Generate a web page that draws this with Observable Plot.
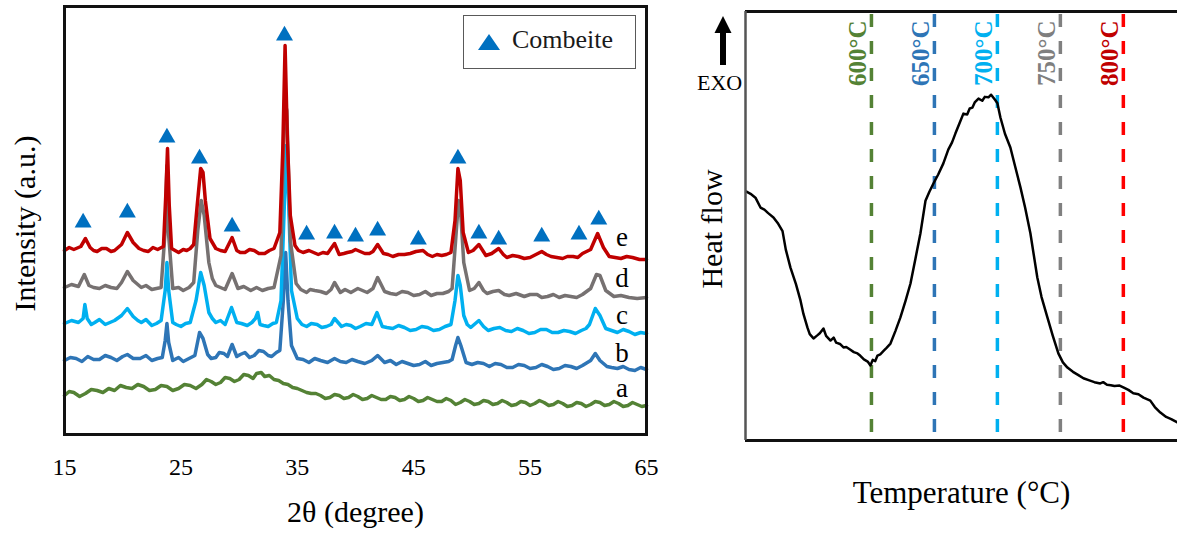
<!DOCTYPE html>
<html>
<head>
<meta charset="utf-8">
<script src="https://cdn.jsdelivr.net/npm/d3@7"></script>
<script src="https://cdn.jsdelivr.net/npm/@observablehq/plot@0.6"></script>
<style>
  body { margin: 0; background: #fff; }
  #wrap { position: relative; width: 1177px; height: 533px; overflow: hidden; background: #fff;
          font-family: "Liberation Serif", "Times New Roman", serif; }
  #left { position: absolute; left: 0; top: 0; }
  #right { position: absolute; left: 680px; top: 0; }
  #legend { position: absolute; left: 463px; top: 15px; width: 173px; height: 54px;
            border: 1.5px solid #595959; background: #fff; box-sizing: border-box; }
  #legend span { position: absolute; left: 48px; top: 9px; font-size: 26px; color: #1a1a1a; line-height: 30px; }
  #exo { position: absolute; left: 680px; top: 0; width: 70px; height: 100px; }
  #exo span { position: absolute; left: 17px; top: 70px; font-size: 22px; line-height: 26px; color: #000; }
</style>
</head>
<body>
<div id="wrap">
  <div id="left"></div>
  <div id="right"></div>
  <div id="legend">
    <svg width="170" height="52" style="position:absolute;left:0;top:0">
      <path d="M25,18 L36,34 L14,34 Z" fill="#0070C0"></path>
    </svg>
    <span>Combeite</span>
  </div>
  <div id="exo">
    <svg width="70" height="70" style="position:absolute;left:0;top:0">
      <path d="M43,16 L51.5,33 L34.5,33 Z" fill="#000"></path>
      <rect x="40" y="32" width="6" height="33" fill="#000"></rect>
    </svg>
    <span>EXO</span>
  </div>
</div>
<script>
// ---------------- XRD data (2θ in degrees, intensity in a.u., stacked as plotted) ----------------
const xTicks = [15, 25, 35, 45, 55, 65];

const traceA = [[15,39],[15.4,43],[15.8,42],[16.3,38],[16.8,41],[17.3,45],[17.8,44],[18.3,42],[18.8,46],[19.3,44],[19.8,49],
  [20.3,47],[20.8,46],[21.3,50],[21.8,48],[22.3,44],[22.8,45],[23.3,49],[23.8,48],[24.3,44],[24.8,46],[25.3,50],
  [25.8,49],[26.3,46],[26.8,50],[27.2,55],[27.6,53],[28,50],[28.4,52],[28.8,57],[29.2,56],[29.6,53],[30,55],
  [30.4,60],[30.8,59],[31.2,56],[31.5,61],[31.9,62],[32.2,58],[32.6,59],[33,55],[33.4,54],[33.8,51],[34.2,50],
  [34.6,47],[35,46],[35.4,44],[35.8,42],[36.2,41],[36.6,41],[37,39],[37.4,36],[37.8,37],[38.2,40],[38.6,39],
  [39,36],[39.4,37],[39.8,40],[40.2,38],[40.6,35],[41,36],[41.4,39],[41.8,37],[42.2,35],[42.6,35],[43,38],
  [43.4,37],[43.8,34],[44.2,35],[44.6,38],[45,36],[45.4,33],[45.8,34],[46.2,37],[46.6,35],[47,33],[47.4,33],
  [47.8,36],[48.2,34],[48.6,30],[49,32],[49.4,35],[49.8,33],[50.2,30],[50.6,31],[51,34],[51.4,33],[51.8,30],
  [52.2,31],[52.6,34],[53,32],[53.4,29],[53.8,30],[54.2,33],[54.6,32],[55,29],[55.4,31],[55.8,34],[56.2,32],
  [56.6,29],[57,30],[57.4,33],[57.8,31],[58.2,28],[58.6,29],[59,32],[59.4,31],[59.8,28],[60.2,30],[60.6,33],
  [61,32],[61.4,29],[61.8,30],[62.2,33],[62.6,31],[63,28],[63.4,29],[63.8,32],[64.2,30],[64.6,28],[65,29]];

const traceB = [[15,74],[15.5,77],[16,76],[16.5,73],[17,78],[17.5,75],[18,75],[18.5,79],[19,77],[19.5,74],[20,78],
  [20.4,80],[20.9,76],[21.5,76],[22,79],[22.5,74],[23,76],[23.4,77],[23.65,94],[23.8,111],[23.95,92],[24.3,74],
  [24.8,77],[25.2,73],[25.7,76],[26.2,79],[26.6,102],[26.9,96],[27.3,80],[27.6,76],[28,77],[28.3,82],[28.7,81],
  [29,78],[29.4,90],[29.8,78],[30.1,80],[30.5,82],[30.9,77],[31.3,79],[31.7,84],[32.1,83],[32.5,79],[32.8,78],
  [33.2,82],[33.5,84],[33.8,134],[34,182],[34.2,134],[34.5,89],[35,76],[35.5,75],[36,72],[36.5,76],[37,74],
  [37.6,72],[38.2,76],[38.7,73],[39.2,72],[39.7,75],[40.2,73],[40.8,71],[41.4,74],[41.9,79],[42.5,72],[43,74],
  [43.5,70],[44,73],[44.5,71],[45,69],[45.5,70],[46,73],[46.5,69],[47,71],[47.5,72],[48,73],[48.3,75],[48.6,89],
  [48.8,97],[49.05,89],[49.5,72],[50,70],[50.5,72],[51,71],[51.5,68],[52,71],[52.5,70],[53,67],[53.5,67],[54,70],
  [54.5,69],[55,66],[55.5,67],[56,70],[56.5,68],[57,65],[57.5,66],[58,69],[58.5,68],[59,66],[59.5,69],[60.2,74],
  [60.6,81],[61,74],[61.6,68],[62,67],[62.5,66],[63,68],[63.5,65],[64,64],[64.5,67],[65,65]];

const traceC = [[15,111],[15.6,114],[16.2,112],[16.6,116],[16.75,130],[16.95,116],[17.3,110],[17.6,112],[18,115],
  [18.5,110],[18.9,112],[19.3,114],[19.9,119],[20.4,126],[20.9,118],[21.3,114],[21.6,112],[22,115],[22.5,109],
  [22.9,111],[23.3,114],[23.65,144],[23.8,172],[23.95,144],[24.3,112],[24.6,110],[25,108],[25.4,111],[25.8,112],
  [26.3,134],[26.7,162],[27,149],[27.4,122],[27.7,116],[28,112],[28.4,114],[28.8,110],[29.35,127],[29.8,112],
  [30.2,111],[30.7,109],[31.1,112],[31.4,116],[31.6,122],[31.8,110],[32.1,109],[32.5,108],[32.9,111],[33.2,112],
  [33.6,134],[33.9,234],[34.05,289],[34.25,234],[34.5,144],[35,116],[35.4,110],[35.8,108],[36.2,111],[36.7,110],
  [37.1,107],[37.5,108],[37.9,110],[38.2,116],[38.8,108],[39.2,110],[39.6,109],[40,106],[40.4,108],[40.9,111],
  [41.4,110],[41.85,122],[42.3,108],[42.7,107],[43.2,106],[43.7,109],[44.2,107],[44.7,104],[45.2,105],[45.7,108],
  [46.2,107],[46.7,104],[47.2,105],[47.7,108],[48.2,110],[48.55,134],[48.8,159],[49,149],[49.3,119],[49.6,110],
  [49.9,107],[50.2,110],[50.6,114],[51,108],[51.4,104],[51.9,106],[52.4,107],[52.9,104],[53.4,103],[53.9,106],
  [54.4,104],[54.9,101],[55.4,102],[55.9,105],[56.4,105],[56.9,102],[57.4,102],[57.9,104],[58.4,103],[58.9,101],
  [59.4,104],[59.8,106],[60.1,110],[60.6,126],[61,119],[61.5,106],[62,104],[62.5,102],[63,105],[63.5,103],
  [64,100],[64.5,102],[65,101]];

const traceD = [[15,147],[15.6,150],[16.2,148],[16.7,160],[17.1,149],[17.5,147],[18,146],[18.5,149],[19,147],
  [19.5,146],[19.9,152],[20.4,163],[20.9,154],[21.3,150],[21.6,147],[22,149],[22.5,145],[22.9,146],[23.3,147],
  [23.65,204],[23.8,269],[23.95,199],[24.3,146],[24.8,147],[25.2,144],[25.7,147],[26.1,152],[26.45,204],
  [26.75,234],[27,219],[27.4,172],[27.7,156],[28,149],[28.4,147],[28.8,145],[29.4,161],[29.9,146],[30.4,148],
  [31,144],[31.5,147],[32,144],[32.5,146],[33,147],[33.6,179],[33.9,334],[34.1,324],[34.4,194],[34.9,151],
  [35.3,145],[35.8,142],[36.1,145],[36.5,144],[37,143],[37.5,141],[37.9,145],[38.2,152],[38.7,142],[39.1,145],
  [39.6,142],[40.2,146],[40.6,144],[41,142],[41.5,146],[41.9,157],[42.5,143],[43,141],[43.5,140],[44,143],
  [44.5,142],[45,139],[45.5,140],[46,143],[46.5,139],[47,141],[47.5,141],[48,143],[48.3,146],[48.6,194],
  [48.85,234],[49.05,219],[49.3,172],[49.8,144],[50.2,146],[50.6,152],[51,144],[51.3,141],[51.8,143],[52.3,144],
  [52.8,140],[53.2,139],[53.8,141],[54.5,138],[55,140],[55.6,140],[56,137],[56.5,138],[57,140],[57.5,137],
  [58,139],[58.5,138],[59,137],[59.5,140],[60.2,146],[60.7,160],[61,159],[61.5,144],[62.2,138],[62.8,139],
  [63.5,137],[64.2,136],[65,137]];

const traceE = [[15,184],[15.4,187],[15.8,185],[16.4,188],[16.8,196],[17.2,187],[17.5,184],[17.8,183],[18.2,186],
  [18.6,186],[19,183],[19.3,184],[19.9,190],[20.4,202],[20.9,192],[21.4,186],[21.8,184],[22.2,183],[22.6,187],
  [23,185],[23.5,188],[23.7,239],[23.85,286],[24,229],[24.2,186],[24.5,184],[24.8,182],[25.2,185],[25.5,184],
  [25.8,186],[26.1,190],[26.4,229],[26.7,266],[26.9,262],[27.1,234],[27.5,196],[28,186],[28.4,184],[28.8,183],
  [29.4,197],[29.8,184],[30.1,182],[30.5,182],[30.9,185],[31.3,184],[31.7,181],[32.2,181],[32.6,184],[33,186],
  [33.5,202],[33.75,284],[33.95,389],[34.15,294],[34.4,219],[34.8,189],[35.1,184],[35.5,182],[36,184],[36.4,182],
  [36.8,180],[37.2,182],[37.6,181],[38.2,191],[38.6,180],[39,181],[39.3,182],[39.7,183],[40,185],[40.4,183],
  [40.8,181],[41.2,181],[41.5,183],[41.9,190],[42.4,181],[42.8,180],[43.2,178],[43.7,180],[44.2,180],[44.7,181],
  [45.2,183],[45.8,184],[46.2,180],[46.6,178],[47,180],[47.4,179],[47.8,180],[48.2,182],[48.55,214],[48.8,266],
  [49,254],[49.25,202],[49.7,182],[50.1,184],[50.6,190],[51.2,179],[51.7,181],[52.3,186],[52.7,180],[53,177],
  [53.5,179],[54,178],[54.5,176],[55,177],[55.5,180],[56,183],[56.4,180],[56.8,178],[57.3,177],[57.8,176],
  [58.2,178],[58.7,178],[59.1,177],[59.5,181],[60.2,185],[60.8,201],[61.3,187],[61.8,178],[62.3,177],[62.8,176],
  [63.3,178],[63.8,177],[64.4,175],[65,175]];

const sampleNames = ["a", "b", "c", "d", "e"];
const sampleLabelAngle = [62.9, 62.9, 62.9, 62.9, 62.9];
const sampleLabelIntensity = [46, 81, 119, 156, 197];

// Combeite reflections (marker positions)
const combeiteAngle  = [16.6, 20.4, 23.8, 26.6, 29.4, 33.9, 35.8, 38.2, 40.0, 41.9, 45.4, 48.8, 50.6, 52.3, 56.0, 59.2, 60.9];
const combeiteHeight = [212, 222, 297, 276, 208, 399, 200, 201, 198, 204, 195, 276, 201, 195, 198, 200, 215];

// ---------------- DSC data (temperature °C, heat flow a.u.) ----------------
const dscTemp = [500.8,504,507.9,511.9,515,518,522.2,526,529.4,532,535.7,540,543.7,546,549.2,551,554,557,559,561.9,564,567.5,
  570,572,575,577.8,580,583,586,588.9,591,594,597,599.2,601,603,604.8,607,610,612,615.1,619,623,627,631,635,638.9,
  642.9,646,649.2,653,657.1,661,664,666.7,670,673,676,678,680.2,682,685,688,690,692.9,695,698.4,700,702.4,706,710.3,
  714,718.3,722,726.2,731.7,735,739.7,744,748.4,752,755.6,760,764,768.3,773,777,781.7,784,787,790,793,797,800,
  804,807.9,812,816,821.4,825,829.4,834,838,842.9];
const dscHeat = [58.0,57.5,56.6,54.3,53.8,53.0,52.0,50.5,48.8,44.5,40.3,36.5,32.6,29.5,26.3,24.8,23.8,24.5,25.0,26.1,24.4,23.3,
  24.0,22.8,22.5,21.7,21.8,21.2,20.6,20.3,19.8,18.9,18.4,17.5,18.8,18.5,19.8,20.1,21.0,21.6,22.6,25.5,28.7,32.5,36.6,
  42.5,48.3,55.9,58.0,59.9,62.0,64.6,67.8,69.5,71.6,74.0,76.2,76.0,77.4,77.6,78.8,79.7,79.2,80.1,80.0,80.6,79.3,
  78.6,75.3,71.5,68.3,64.0,59.0,54.3,48.3,38.0,33.5,28.7,24.4,20.3,18.2,17.0,16.0,15.3,14.5,14.0,13.6,13.3,13.6,
  13.0,12.9,12.7,12.8,12.4,11.8,11.0,10.8,10.0,9.3,7.8,6.5,5.5,5.0,4.2];

const tempMarks = [600, 650, 700, 750, 800];

// ---------------- styles ----------------
const sampleColor = {a: "#548235", b: "#2E75B6", c: "#00B0F0", d: "#767171", e: "#C00000"};
const markLineColor = {600: "#548235", 650: "#2E75B6", 700: "#00B0F0", 750: "#808080", 800: "#FF0000"};
const markTextColor = {600: "#548235", 650: "#2E75B6", 700: "#00B0F0", 750: "#7F7F7F", 800: "#C00000"};
const serif = "Liberation Serif, Times New Roman, serif";

const traces = {a: traceA, b: traceB, c: traceC, d: traceD, e: traceE};
const xrdRows = sampleNames.flatMap(s => traces[s].map(([t, i]) => ({sample: s, twoTheta: t, intensity: i})));
const labelRows = sampleNames.map((s, i) => ({sample: s, twoTheta: sampleLabelAngle[i], intensity: sampleLabelIntensity[i]}));
const combeiteRows = combeiteAngle.map((a, i) => ({twoTheta: a, intensity: combeiteHeight[i]}));
const dscRows = dscTemp.map((t, i) => ({temp: t, heat: dscHeat[i]}));

const left = Plot.plot({
  width: 680, height: 533,
  marginLeft: 64, marginRight: 34, marginTop: 6, marginBottom: 99,
  x: {domain: [15, 65]},
  y: {domain: [0, 428], axis: null},
  style: {fontFamily: serif, background: "transparent", color: "#000", overflow: "visible"},
  marks: [
    ...sampleNames.map(s => Plot.line(xrdRows.filter(d => d.sample === s),
      {x: "twoTheta", y: "intensity", stroke: sampleColor[s], strokeWidth: 3.5, strokeLinejoin: "round"})),
    Plot.dot(combeiteRows, {x: "twoTheta", y: "intensity", symbol: "triangle", r: 6.3, fill: "#0070C0"}),
    Plot.text(labelRows, {x: "twoTheta", y: "intensity", text: "sample", fontSize: 27, fill: "#000"}),
    Plot.frame({stroke: "#111", strokeWidth: 3}),
    Plot.axisX(xTicks, {tickSize: 0, tickPadding: 23, fontSize: 24, label: null, tickFormat: d => String(d)}),
    Plot.text(["2θ (degree)"], {text: d => d, frameAnchor: "bottom", dy: 87, fontSize: 30, fill: "#000"}),
    Plot.text(["Intensity (a.u.)"], {text: d => d, frameAnchor: "left", textAnchor: "middle", rotate: -90, dx: -39, dy: 3, fontSize: 30, fill: "#000"})
  ]
});
document.getElementById("left").appendChild(left);

const right = Plot.plot({
  width: 497, height: 533,
  marginLeft: 65, marginRight: 0, marginTop: 11, marginBottom: 93,
  x: {domain: [500, 843], axis: null},
  y: {domain: [0, 100], axis: null},
  color: {type: "identity"},
  style: {fontFamily: serif, background: "transparent", color: "#000", overflow: "visible"},
  marks: [
    Plot.ruleX(tempMarks, {x: d => d, stroke: d => markLineColor[d], strokeWidth: 3.5, strokeDasharray: "13,14", strokeDashoffset: -3}),
    Plot.text(tempMarks, {x: d => d, text: d => d + "°C", frameAnchor: "top", rotate: -90, textAnchor: "end",
      dx: -23, dy: 9, fill: d => markTextColor[d], fontWeight: "bold", fontSize: 25}),
    Plot.line(dscRows, {x: "temp", y: "heat", stroke: "#000", strokeWidth: 2.5, strokeLinejoin: "round"}),
    Plot.ruleY([100], {stroke: "#111", strokeWidth: 3}),
    Plot.ruleY([0], {stroke: "#111", strokeWidth: 3}),
    Plot.ruleX([500], {stroke: "#555", strokeWidth: 2.5}),
    Plot.text(["Heat flow"], {text: d => d, frameAnchor: "left", textAnchor: "middle", rotate: -90, dx: -33, dy: 3, fontSize: 30, fill: "#000"}),
    Plot.text(["Temperature (°C)"], {text: d => d, frameAnchor: "bottom", dy: 62, fontSize: 31, fill: "#000"})
  ]
});
document.getElementById("right").appendChild(right);
</script>
</body>
</html>
